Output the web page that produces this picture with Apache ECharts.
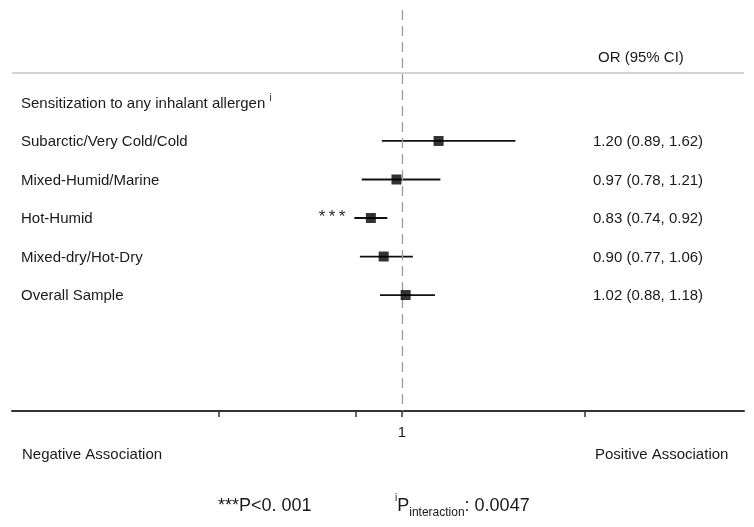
<!DOCTYPE html>
<html><head><meta charset="utf-8">
<script src="https://cdn.jsdelivr.net/npm/echarts/dist/echarts.min.js"></script>
<style>html,body{margin:0;padding:0;background:#fff}#c{width:754px;height:527px}</style>
</head><body><div id="c"></div>
<script>
// ---- data ----
const groupTitle = 'Sensitization to any inhalant allergen';
const categories = ['Subarctic/Very Cold/Cold', 'Mixed-Humid/Marine', 'Hot-Humid', 'Mixed-dry/Hot-Dry', 'Overall Sample'];
const orValues = [1.20, 0.97, 0.83, 0.90, 1.02];
const ciLower  = [0.89, 0.78, 0.74, 0.77, 0.88];
const ciUpper  = [1.62, 1.21, 0.92, 1.06, 1.18];
const significance = ['', '', '***', '', ''];
const tickValues = [0, 0.75, 1, 2];
const tickLabels = [1];
const nullValue = 1;

// ---- layout helpers (not data) ----
const FONT = '"Liberation Sans", Arial, sans-serif';
const TXT = '#1a1a1a';
const LABEL_X = -1.082;   // x (in axis units) where row labels start
const VALUE_X = 2.044;    // x where OR text starts
const HEAD_X = 2.071;
const HEADER_ROW = 0;
const OR_HEAD_ROW = -1.15;
const RULE_ROW = -0.77;

const rows = categories.map((c, i) => i + 1);
const fmt = v => v.toFixed(2);
const orText = orValues.map((v, i) => fmt(v) + ' (' + fmt(ciLower[i]) + ', ' + fmt(ciUpper[i]) + ')');

const chart = echarts.init(document.getElementById('c'));

function textItem(x, y, text, extra) {
  return {
    type: 'text', x: x, y: y,
    style: Object.assign({
      text: text, fill: TXT, fontSize: 15, fontFamily: FONT,
      textAlign: 'left', align: 'left', textVerticalAlign: 'middle', verticalAlign: 'middle'
    }, extra || {})
  };
}

chart.setOption({
  animation: false,
  backgroundColor: '#fff',
  grid: { left: 12, right: 10, top: 10, bottom: 116 },
  xAxis: {
    type: 'value', min: -1.131, max: 2.869,
    splitLine: { show: false },
    axisLine: { show: true, onZero: false, lineStyle: { color: '#333', width: 2 } },
    axisTick: { show: true, customValues: tickValues, length: 6, lineStyle: { color: '#333', width: 1.5 } },
    axisLabel: { customValues: tickLabels, margin: 14, fontSize: 15, fontFamily: FONT, color: TXT,
                 formatter: v => String(v) }
  },
  yAxis: { type: 'value', inverse: true, min: -2.4, max: 8.01, show: false },
  series: [
    {
      // reference lines
      type: 'line', data: [], silent: true,
      markLine: {
        symbol: 'none', silent: true, label: { show: false },
        data: [
          { xAxis: nullValue, lineStyle: { color: '#9a9a9a', type: [10, 6], width: 1.3 } },
          { yAxis: RULE_ROW, lineStyle: { color: '#c4c4c4', type: 'solid', width: 1.5 } }
        ]
      }
    },
    {
      // confidence intervals
      type: 'custom',
      data: rows.map((r, i) => [ciLower[i], ciUpper[i], r]),
      encode: { x: [0, 1], y: 2 },
      renderItem: function (params, api) {
        const a = api.coord([api.value(0), api.value(2)]);
        const b = api.coord([api.value(1), api.value(2)]);
        return { type: 'line', shape: { x1: a[0], y1: a[1], x2: b[0], y2: b[1] },
                 style: { stroke: '#111', lineWidth: 1.8 } };
      }
    },
    {
      // point estimates
      type: 'scatter', symbol: 'rect', symbolSize: 10, z: 5,
      itemStyle: { color: '#000' },
      data: rows.map((r, i) => [orValues[i], r])
    },
    {
      // significance stars
      type: 'custom',
      data: rows.map((r, i) => [ciLower[i], r]),
      renderItem: function (params, api) {
        const s = significance[params.dataIndex];
        if (!s) return null;
        const p = api.coord([api.value(0), api.value(1)]);
        return textItem(p[0] - 9, p[1] - 1, s.split('').join('\u2009'),
          { textAlign: 'right', align: 'right', fontSize: 17, fill: '#2a2a2a' });
      }
    },
    {
      // row labels and OR text
      type: 'custom',
      data: rows.map(r => [r]),
      renderItem: function (params, api) {
        const i = params.dataIndex;
        const p1 = api.coord([LABEL_X, api.value(0)]);
        const p2 = api.coord([VALUE_X, api.value(0)]);
        return { type: 'group', children: [
          textItem(p1[0], p1[1] + 1, categories[i]),
          textItem(p2[0], p2[1] + 1, orText[i])
        ] };
      }
    },
    {
      // headers
      type: 'custom',
      data: [[0]],
      renderItem: function (params, api) {
        const h = api.coord([LABEL_X, HEADER_ROW]);
        const o = api.coord([HEAD_X, OR_HEAD_ROW]);
        return { type: 'group', children: [
          textItem(h[0], h[1] + 1, '{m|' + groupTitle + '} {s|i}', {
            rich: {
              m: { fontSize: 15, fontFamily: FONT, fill: TXT, color: TXT, lineHeight: 20, verticalAlign: 'middle' },
              s: { fontSize: 10, fontFamily: FONT, fill: TXT, color: TXT, lineHeight: 20, verticalAlign: 'top' }
            }
          }),
          textItem(o[0], o[1], 'OR (95% CI)')
        ] };
      }
    }
  ],
  graphic: [
    { type: 'text', left: 22, top: 447, style: { text: 'Negative Association', fontSize: 15, fontFamily: FONT, fill: TXT } },
    { type: 'text', left: 595, top: 447, style: { text: 'Positive Association', fontSize: 15, fontFamily: FONT, fill: TXT } },
    { type: 'text', left: 218, top: 497, style: { text: '***P<0. 001', fontSize: 18, fontFamily: FONT, fill: TXT } },
    { type: 'text', left: 395, top: 493, style: {
        text: '{s|i}{p|P}{b|interaction}{p|: 0.0047}', fill: TXT,
        rich: {
          s: { fontSize: 10, fontFamily: FONT, fill: TXT, color: TXT, lineHeight: 26, verticalAlign: 'top' },
          p: { fontSize: 18, fontFamily: FONT, fill: TXT, color: TXT, lineHeight: 26, verticalAlign: 'middle' },
          b: { fontSize: 12, fontFamily: FONT, fill: TXT, color: TXT, lineHeight: 26, verticalAlign: 'bottom' }
        } } }
  ]
});
</script>
</body></html>
